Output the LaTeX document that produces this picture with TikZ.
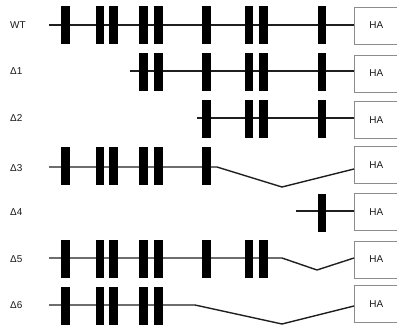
\documentclass[tikz,border=0pt]{standalone}
\usepackage{fontspec}
\setmainfont{Liberation Sans}
\begin{document}
\begin{tikzpicture}[x=1bp,y=-1bp,
  exon/.style={fill=black,draw=black,line width=0.3bp,minimum width=7.5bp,minimum height=37bp,inner sep=0pt,outer sep=0pt},
  habox/.style={draw=black!45,line width=0.8bp,minimum width=46bp,minimum height=37bp,anchor=west,inner sep=0pt,font=\fontsize{10}{12}\selectfont,text=black!90,fill=white},
  lab/.style={anchor=west,inner sep=0pt,font=\fontsize{10}{12}\selectfont,text=black!90},
  gene/.style={line width=1.4bp,draw=black!88}]
\useasboundingbox (0,0) rectangle (397,326);
% labels
\node[lab] (lWT) at (10,25) {WT};
\node[lab] (l1) at (10,71) {Δ1};
\node[lab] (l2) at (10,118) {Δ2};
\node[lab] (l3) at (10,168) {Δ3};
\node[lab] (l4) at (10,212) {Δ4};
\node[lab] (l5) at (10,259) {Δ5};
\node[lab] (l6) at (10,305) {Δ6};
% HA boxes
\node[habox] (hWT) at (354,25.5) {\hspace*{-2bp}HA};
\node[habox] (h1) at (354,73.5) {\hspace*{-2bp}HA};
\node[habox] (h2) at (354,120) {\hspace*{-2bp}HA};
\node[habox] (h3) at (354,165) {\hspace*{-2bp}HA};
\node[habox] (h4) at (354,212) {\hspace*{-2bp}HA};
\node[habox] (h5) at (354,259.5) {\hspace*{-2bp}HA};
\node[habox] (h6) at (354,304) {\hspace*{-2bp}HA};
% start coordinates
\coordinate (sWT) at (49,25);
\coordinate (s1) at (130,71);
\coordinate (s2) at (197,118);
\coordinate (s3) at (49,167);
\coordinate (s4) at (296,211);
\coordinate (s5) at (49,258);
\coordinate (s6) at (49,305);
% gene lines
\draw[gene] (sWT) -- (hWT.west |- sWT);
\draw[gene] (s1) -- (h1.west |- s1);
\draw[gene] (s2) -- (h2.west |- s2);
\draw[gene] (s3) -- (217,167) -- (282,187) -- ([yshift=-4bp]h3.west);
\draw[gene] (s4) -- (h4.west |- s4);
\draw[gene] (s5) -- (282,258) -- (317,270) -- ([yshift=1.5bp]h5.west);
\draw[gene] (s6) -- (195,305) -- (282,324) -- ([yshift=-2bp]h6.west);
% exons
\foreach \r/\y/\list in {WT/25/{1,2,3,4,5,6,7,8,9}, 1/71.5/{4,5,6,7,8,9}, 2/119/{6,7,8,9}, 3/165.5/{1,2,3,4,5,6}, 4/213/{9}, 5/259/{1,2,3,4,5,6,7,8}, 6/305.5/{1,2,3,4,5}}{
  \foreach \e in \list {
    \pgfmathsetmacro{\ex}{{0,65,99.5,113,143,158,206,248.5,263,321.5}[\e]}
    \node[exon] (e\r-\e) at (\ex,\y) {};
  }
}
\end{tikzpicture}
\end{document}
